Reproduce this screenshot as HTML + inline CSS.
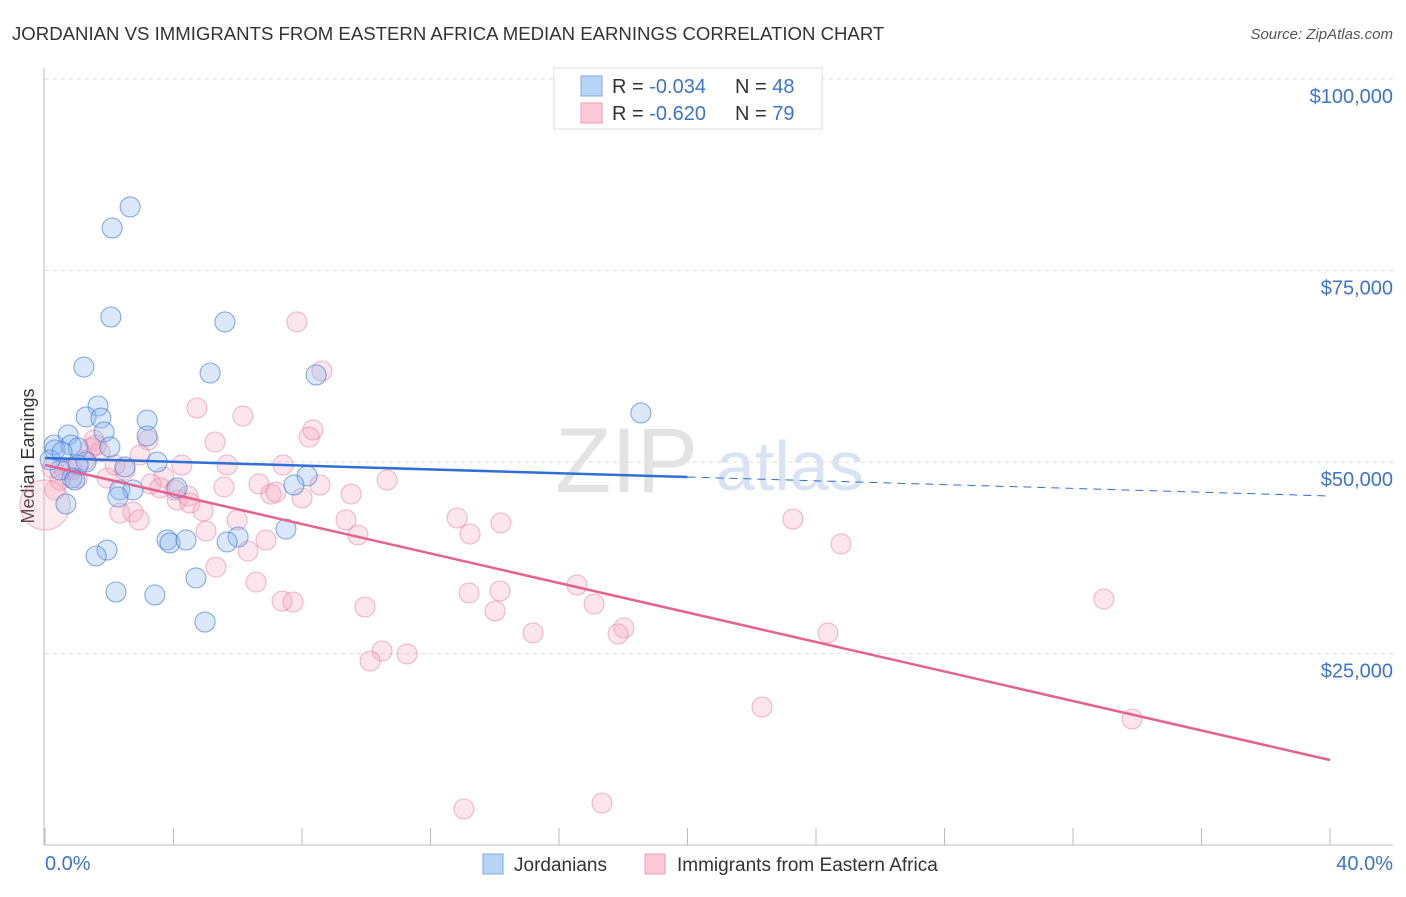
<!DOCTYPE html>
<html><head><meta charset="utf-8"><style>
body{margin:0;background:#fff;font-family:"Liberation Sans",sans-serif}
svg text{font-family:"Liberation Sans",sans-serif}
</style></head><body>
<svg id="chart" width="1406" height="892" viewBox="0 0 1406 892" xmlns="http://www.w3.org/2000/svg">
<text x="12" y="40" font-size="18.6" fill="#333">JORDANIAN VS IMMIGRANTS FROM EASTERN AFRICA MEDIAN EARNINGS CORRELATION CHART</text>
<text x="1393" y="39" font-size="15" fill="#555" font-style="italic" text-anchor="end">Source: ZipAtlas.com</text>
<g id="grid"></g>
<text x="555" y="492" font-size="92" fill="#e3e3e3" font-family="Liberation Serif">ZIP</text>
<text x="716" y="490" font-size="70" fill="#d8e4f4">atlas</text>
<line x1="44" y1="68" x2="44" y2="845" stroke="#bbb" stroke-width="1"/>
<line x1="44" y1="845" x2="1393" y2="845" stroke="#bbb" stroke-width="1"/>
<text transform="translate(34,456) rotate(-90)" font-size="18" fill="#333" text-anchor="middle">Median Earnings</text>
<g id="yticks"></g>
<g id="xticks"></g>
<g id="points"></g>
<g id="trends"></g>
<g>
<rect x="554" y="68" width="268" height="61" fill="#fff" stroke="#ddd"/>
<rect x="581" y="76" width="21" height="20" fill="#b9d3f5" stroke="#7da8e6"/>
<rect x="581" y="103" width="21" height="20" fill="#fbc9d8" stroke="#ef9ab5"/>
<text x="612" y="93" font-size="20" fill="#333">R = <tspan fill="#3b74d0">-0.034</tspan><tspan x="735">N = </tspan><tspan fill="#3b74d0">48</tspan></text>
<text x="612" y="120" font-size="20" fill="#333">R = <tspan fill="#3b74d0">-0.620</tspan><tspan x="735">N = </tspan><tspan fill="#3b74d0">79</tspan></text>
</g>
<g>
<rect x="483" y="854" width="20" height="20" fill="#b9d3f5" stroke="#7da8e6"/>
<text x="514" y="871" font-size="19" fill="#333">Jordanians</text>
<rect x="645" y="854" width="20" height="20" fill="#fbc9d8" stroke="#ef9ab5"/>
<text x="677" y="871" font-size="19" fill="#333">Immigrants from Eastern Africa</text>
</g>
</svg>
<script>
const yTickValues=[25000,50000,75000,100000];
const yTickLabels=["$25,000","$50,000","$75,000","$100,000"];
const xTickValues=[0,4,8,12,16,20,24,28,32,36,40];
const xEndLabels=["0.0%","40.0%"];
const blueX=[2.65,2.09,2.05,5.60,1.21,5.14,8.44,18.55,1.65,1.28,1.74,3.18,1.84,0.72,3.18,0.28,0.31,0.81,1.03,2.02,3.49,1.28,2.49,1.03,8.16,7.75,4.11,0.84,2.33,2.74,2.27,0.65,7.50,3.80,3.89,4.39,6.01,5.67,1.93,1.59,4.70,2.21,3.42,4.98,0.47,0.16,0.53,0.93];
const blueY=[83300,80550,68930,68280,62400,61620,61360,56400,57310,55880,55740,55480,53920,53530,53400,52220,51570,52220,51830,51960,50000,50000,49350,49610,48170,47000,46610,47910,46350,46350,45430,44520,41250,39820,39430,39820,40210,39560,38510,37730,34860,33030,32640,29110,48960,50260,51310,47650];
const pinkX=[7.84,8.62,4.73,8.34,8.22,5.29,3.21,1.53,1.43,1.71,5.67,7.41,4.26,0.22,0.62,1.00,1.93,2.49,3.70,3.30,3.58,4.11,4.45,4.51,4.05,4.92,2.33,2.74,2.93,5.57,6.66,7.03,7.19,8.00,8.56,9.53,10.65,9.37,5.98,5.01,6.88,6.32,9.74,12.83,14.19,13.23,5.32,6.57,7.38,7.72,9.96,13.20,14.16,14.01,16.56,17.09,15.19,18.02,17.84,10.49,11.27,10.12,24.37,23.28,24.78,32.96,22.32,33.84,13.04,17.34,0.31,0.47,0.84,1.25,1.59,2.18,2.96,6.16,0];
const pinkY=[68280,61880,57050,54180,53260,52610,52870,52870,51830,51310,49610,49610,49610,49220,48960,47910,47910,48960,48040,47130,46610,45040,45560,44650,46350,43600,43340,43470,42430,46740,47130,45820,46080,45300,47000,45820,47650,42430,42430,40990,39820,38380,40470,42690,42040,40600,36290,34330,31850,31720,31070,32900,33160,30550,33940,31460,27680,28330,27550,25330,24940,24020,27680,42560,39300,32120,18020,16450,4700,5480,46350,47650,48960,50260,52220,49610,50910,56000,44390];
const blueTrend=[50522,45561];
const pinkTrend=[49608,11097];
const NS="http://www.w3.org/2000/svg";
const X0=45,X1=1330,YB=845,YT=79;
function xs(v){return X0+(v/40)*(X1-X0);}
function ys(v){return YB-(v/100000)*(YB-YT);}
function mk(tag,attrs,parent){const e=document.createElementNS(NS,tag);for(const k in attrs)e.setAttribute(k,attrs[k]);parent.appendChild(e);return e;}
const gridG=document.getElementById('grid'),ytG=document.getElementById('yticks'),xtG=document.getElementById('xticks');
yTickValues.forEach((v,i)=>{
  const l=mk('line',{x1:45,x2:1393,y1:ys(v),y2:ys(v),stroke:'#ddd','stroke-dasharray':'4,4'},gridG);
  
  
  const t=mk('text',{x:1393,y:ys(v)+24,'font-size':20,fill:'#3b74d0','text-anchor':'end'},ytG);
  
  
  t.textContent=yTickLabels[i];
});
xTickValues.forEach(v=>{
  const l=mk('line',{x1:xs(v),x2:xs(v),y1:828,y2:845,stroke:'#bbb'},xtG);
  
  
});
const t0=mk('text',{x:45,y:870,'font-size':20,fill:'#3b74d0'},xtG);


t0.textContent=xEndLabels[0];
const t1=mk('text',{x:1393,y:870,'font-size':20,fill:'#3b74d0','text-anchor':'end'},xtG);


t1.textContent=xEndLabels[1];
const ptsG=document.getElementById('points');
pinkX.forEach((x,i)=>{
  const big=(x===0);
  const c=mk('circle',{cx:xs(x),cy:ys(pinkY[i]),r:big?25:10,fill:big?'rgba(244,160,188,0.22)':'rgba(244,160,188,0.28)',stroke:'rgba(232,120,158,0.5)','stroke-width':1.1},ptsG);
  
  
});
blueX.forEach((x,i)=>{
  const c=mk('circle',{cx:xs(x),cy:ys(blueY[i]),r:10,fill:'rgba(140,182,238,0.32)',stroke:'rgba(60,120,215,0.6)','stroke-width':1.1},ptsG);
  
  
});
const trG=document.getElementById('trends');
const xMidB=20;
const bMid=blueTrend[0]+(blueTrend[1]-blueTrend[0])*(xMidB/40);
const b1=mk('line',{x1:xs(0),y1:ys(blueTrend[0]),x2:xs(xMidB),y2:ys(bMid),stroke:'#2f6fd6','stroke-width':2.5},trG);


const b2=mk('line',{x1:xs(xMidB),y1:ys(bMid),x2:xs(40),y2:ys(blueTrend[1]),stroke:'#2f6fd6','stroke-width':1,'stroke-dasharray':'8,6'},trG);


const p1=mk('line',{x1:xs(0),y1:ys(pinkTrend[0]),x2:xs(40),y2:ys(pinkTrend[1]),stroke:'#e5628e','stroke-width':2.5},trG);


</script>
</body></html>
